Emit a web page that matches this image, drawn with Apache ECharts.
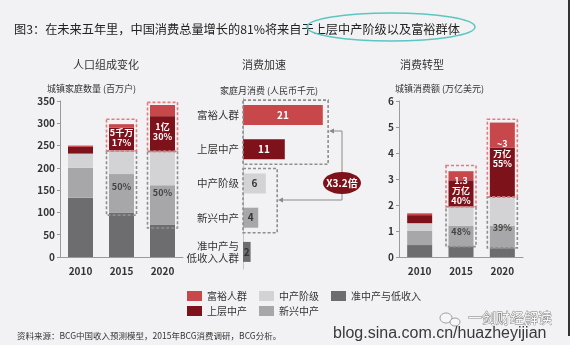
<!DOCTYPE html>
<html>
<head>
<meta charset="utf-8">
<script src="https://cdn.jsdelivr.net/npm/echarts@6/dist/echarts.min.js"></script>
<style>
  html, body { margin: 0; padding: 0; background: #fff; }
  .main .chart { width: 576px; height: 352px; }
</style>
</head>
<body>
<div class="main"><div class="chart"></div></div>
<script>
// categories
var years = ['2010', '2015', '2020'];
var groups = ['富裕人群', '上层中产', '中产阶级', '新兴中产', '准中产与\n低收入人群'];

// 城镇家庭数量 (百万户), stacked bottom -> top
var hhLow = [133, 100, 73];
var hhEmerging = [67, 86, 88];
var hhMiddle = [32, 54, 76];
var hhUpper = [15, 50, 79];
var hhAffluent = [3, 8, 25];

// 家庭月消费 (人民币千元)
var monthly = [21, 11, 6, 4, 2];

// 城镇消费额 (万亿美元), stacked bottom -> top
var spLow = [0.46, 0.41, 0.34];
var spEmerging = [0.54, 0.79, 0.86];
var spMiddle = [0.30, 0.73, 1.11];
var spUpper = [0.31, 1.02, 1.89];
var spAffluent = [0.07, 0.35, 0.97];

// dashed boxes: [category index, from, to, red?]
var hhBoxes = [[1, 94, 238, 0], [1, 238, 309, 1], [2, 65, 237, 0], [2, 237, 347, 1]];
var spBoxes = [[1, 0.40, 1.93, 0], [1, 1.93, 3.52, 1], [2, 0.35, 2.31, 0], [2, 2.31, 5.30, 1]];
// middle chart boxes: [value reach, first category, last category]
var monthlyBoxes = [[22.4, 0, 1], [9, 2, 3]];

var palette = {
  affluent: '#c8474b',
  upper: '#7e121b',
  middle: '#d3d3d5',
  emerging: '#a7a7a9',
  low: '#6d6d6f'
};

(function ()
{
  var myChart = echarts.init(document.querySelector('.main .chart'));
  var font = '"Noto Sans CJK SC", "Noto Sans", sans-serif';

  function boxItem(params, api) {
    var lo = api.coord([api.value(0), api.value(1)]);
    var hi = api.coord([api.value(0), api.value(2)]);
    var red = api.value(3) === 1;
    return {
      type: 'rect',
      z2: red ? 2 : 1,
      shape: { x: lo[0] - 15, y: hi[1], width: 30, height: lo[1] - hi[1] },
      style: { fill: 'none', stroke: red ? '#e27b7e' : '#8e8e90', lineWidth: 1.6, lineDash: [3, 2] }
    };
  }

  function rowBoxItem(params, api) {
    var a = api.coord([0, api.value(1)]);
    var b = api.coord([api.value(0), api.value(2)]);
    return {
      type: 'rect',
      shape: { x: a[0], y: a[1] - 15, width: b[0] - a[0], height: b[1] - a[1] + 30 },
      style: { fill: 'none', stroke: '#8e8e90', lineWidth: 1.6, lineDash: [3, 2] }
    };
  }

  function stackBar(name, data, color, gridIdx, labels) {
    return {
      name: name,
      type: 'bar',
      stack: 'g' + gridIdx,
      xAxisIndex: gridIdx,
      yAxisIndex: gridIdx,
      barWidth: 25,
      itemStyle: { color: color },
      data: data.map(function (v, i) {
        if (!labels || !labels[i]) return v;
        return { value: v, label: labels[i] };
      })
    };
  }

  var whiteLbl = { color: '#fff', fontSize: 9, lineHeight: 10, fontWeight: 'bold' };
  var grayLbl = { color: '#444', fontSize: 9, fontWeight: 'bold' };

  function lbl(text, pos, base, offset) {
    return Object.assign({ show: true, formatter: text, position: pos, offset: offset || [0, 0] }, base);
  }

  var axisGray = { lineStyle: { color: '#9a9a9c', width: 1 } };

  var option = {
    backgroundColor: '#f2f2f4',
    animation: false,
    textStyle: { fontFamily: font },
    title: [
      { text: '图3：在未来五年里，中国消费总量增长的81%将来自于上层中产阶级以及富裕群体', left: 9, top: 18,
        textStyle: { fontSize: 12.2, fontWeight: 'normal', color: '#222', fontFamily: font } },
      { text: '人口组成变化', left: 68, top: 54, textStyle: { fontSize: 11, fontWeight: 'normal', color: '#333' } },
      { text: '消费加速', left: 237, top: 54, textStyle: { fontSize: 11, fontWeight: 'normal', color: '#333' } },
      { text: '消费转型', left: 395, top: 54, textStyle: { fontSize: 11, fontWeight: 'normal', color: '#333' } },
      { text: '城镇家庭数量 (百万户)', left: 42, top: 79, textStyle: { fontSize: 9, fontWeight: 'normal', color: '#333' } },
      { text: '家庭月消费 (人民币千元)', left: 215, top: 81, textStyle: { fontSize: 9, fontWeight: 'normal', color: '#333' } },
      { text: '城镇消费额 (万亿美元)', left: 390, top: 79, textStyle: { fontSize: 9, fontWeight: 'normal', color: '#333' } },
      { text: '资料来源：BCG中国收入预测模型，2015年BCG消费调研，BCG分析。', left: 12, top: 327,
        textStyle: { fontSize: 8.5, fontWeight: 'normal', color: '#333' } }
    ],
    legend: [
      { data: ['富裕人群', '中产阶级', '准中产与低收入'], left: 187, top: 291, itemWidth: 15, itemHeight: 10,
        itemGap: 12, icon: 'rect', padding: 0, textStyle: { fontSize: 10, color: '#333' } },
      { data: ['上层中产', '新兴中产'], left: 187, top: 306, itemWidth: 15, itemHeight: 10,
        itemGap: 12, icon: 'rect', padding: 0, textStyle: { fontSize: 10, color: '#333' } }
    ],
    grid: [
      { left: 60, top: 101, width: 123, height: 156 },
      { left: 243, top: 98, width: 114, height: 171 },
      { left: 399, top: 101, width: 124, height: 156 }
    ],
    xAxis: [
      { gridIndex: 0, type: 'category', data: years, axisLine: axisGray, axisTick: { show: false },
        axisLabel: { fontSize: 10, color: '#333', fontWeight: 'bold', margin: 9 } },
      { gridIndex: 1, type: 'value', min: 0, max: 30, show: false },
      { gridIndex: 2, type: 'category', data: years, axisLine: axisGray, axisTick: { show: false },
        axisLabel: { fontSize: 10, color: '#333', fontWeight: 'bold', margin: 9 } }
    ],
    yAxis: [
      { gridIndex: 0, type: 'value', min: 0, max: 350, interval: 50, splitLine: { show: false },
        axisLine: { show: true, lineStyle: { color: '#9a9a9c' } }, axisTick: { show: true, length: 3, lineStyle: { color: '#9a9a9c' } },
        axisLabel: { fontSize: 10, color: '#333', fontWeight: 'bold', margin: 5 } },
      { gridIndex: 1, type: 'category', data: groups, inverse: true,
        axisLine: { show: true, lineStyle: { color: '#c4c4c6' } }, axisTick: { show: false },
        axisLabel: { fontSize: 10.5, color: '#333', margin: 4, lineHeight: 12 } },
      { gridIndex: 2, type: 'value', min: 0, max: 6, interval: 1, splitLine: { show: false },
        axisLine: { show: true, lineStyle: { color: '#9a9a9c' } }, axisTick: { show: true, length: 3, lineStyle: { color: '#9a9a9c' } },
        axisLabel: { fontSize: 10, color: '#333', fontWeight: 'bold', margin: 5 } }
    ],
    series: [
      // 人口组成变化
      stackBar('准中产与低收入', hhLow, palette.low, 0),
      stackBar('新兴中产', hhEmerging, palette.emerging, 0,
        [null, lbl('50%', 'insideTop', grayLbl, [0, 3]), lbl('50%', 'insideTop', grayLbl, [0, -2])]),
      stackBar('中产阶级', hhMiddle, palette.middle, 0),
      stackBar('上层中产', hhUpper, palette.upper, 0,
        [null, lbl('5千万\n17%', 'insideTop', whiteLbl, [0, -5]), lbl('1亿\n30%', 'insideTop', whiteLbl, [0, 0])]),
      stackBar('富裕人群', hhAffluent, palette.affluent, 0),
      { type: 'custom', xAxisIndex: 0, yAxisIndex: 0, renderItem: boxItem, encode: { x: 0, y: [1, 2] }, data: hhBoxes, z: 5, silent: true },

      // 消费加速
      {
        name: '家庭月消费',
        type: 'bar',
        xAxisIndex: 1,
        yAxisIndex: 1,
        barWidth: 20,
        data: monthly.map(function (v, i) {
          var c = [palette.affluent, palette.upper, palette.middle, palette.emerging, palette.low][i];
          return { value: v, itemStyle: { color: c },
            label: { color: i < 2 ? '#fff' : '#333' } };
        }),
        label: { show: true, position: 'inside', fontSize: 10, fontWeight: 'bold' }
      },
      { type: 'custom', xAxisIndex: 1, yAxisIndex: 1, renderItem: rowBoxItem, encode: { x: 0, y: [1, 2] }, data: monthlyBoxes, z: 5, silent: true },

      // 消费转型
      stackBar('准中产与低收入', spLow, palette.low, 2),
      stackBar('新兴中产', spEmerging, palette.emerging, 2,
        [null, lbl('48%', 'insideTop', grayLbl, [0, -4]), lbl('39%', 'insideTop', grayLbl, [0, -8])]),
      stackBar('中产阶级', spMiddle, palette.middle, 2),
      stackBar('上层中产', spUpper, palette.upper, 2,
        [null, lbl('1.3\n万亿\n40%', 'inside', whiteLbl, [0, -3]), lbl('~3\n万亿\n55%', 'insideTop', whiteLbl, [0, -14])]),
      stackBar('富裕人群', spAffluent, palette.affluent, 2),
      { type: 'custom', xAxisIndex: 2, yAxisIndex: 2, renderItem: boxItem, encode: { x: 0, y: [1, 2] }, data: spBoxes, z: 5, silent: true }
    ],
    graphic: [
      // frame
      { type: 'rect', shape: { x: 570, y: 0, width: 6, height: 352 }, style: { fill: '#fff' }, z: 0 },
      { type: 'rect', shape: { x: 0, y: 345, width: 576, height: 7 }, style: { fill: '#fff' }, z: 0 },
      { type: 'line', shape: { x1: 569, y1: 0, x2: 569, y2: 336 }, style: { stroke: '#333', lineWidth: 2 }, z: 1 },
      // highlight around title
      { type: 'ellipse', shape: { cx: 391, cy: 27, rx: 84, ry: 14 }, style: { fill: 'none', stroke: '#5cc6c0', lineWidth: 1.5 }, z: 10 },
      // connector between the two groups
      { type: 'polyline', shape: { points: [[332, 131], [342, 131], [342, 200], [280, 200]] },
        style: { stroke: '#8a8a8a', lineWidth: 1, fill: null }, z: 10 },
      { type: 'polygon', shape: { points: [[329, 131], [334, 128.5], [334, 133.5]] }, style: { fill: '#8a8a8a' }, z: 10 },
      { type: 'polygon', shape: { points: [[278, 200], [283, 197.5], [283, 202.5]] }, style: { fill: '#8a8a8a' }, z: 10 },
      { type: 'ellipse', shape: { cx: 342, cy: 183, rx: 19, ry: 11 }, style: { fill: '#7e121b' }, z: 11 },
      { type: 'text', x: 342, y: 183, z: 12,
        style: { text: 'X3.2倍', fill: '#fff', font: 'bold 10px ' + font, align: 'center', verticalAlign: 'middle' } },
      // watermark
      { type: 'ellipse', shape: { cx: 446, cy: 318, rx: 6, ry: 5 }, style: { fill: '#f6f6f6', stroke: '#888', lineWidth: 0.8 }, z: 10 },
      { type: 'ellipse', shape: { cx: 455, cy: 322, rx: 5, ry: 4 }, style: { fill: '#f6f6f6', stroke: '#888', lineWidth: 0.8 }, z: 10 },
      { type: 'text', x: 468, y: 311, z: 10,
        style: { text: '一剑财经解读', fill: '#f6f6f6', stroke: '#777', lineWidth: 0.8, font: '14px ' + font } },
      { type: 'text', x: 333, y: 326, z: 10,
        style: { text: 'blog.sina.com.cn/huazheyijian', fill: '#3a3a3a', font: '16px "Liberation Sans", sans-serif' } }
    ]
  };
  myChart.setOption(option);
})();
</script>
</body>
</html>
